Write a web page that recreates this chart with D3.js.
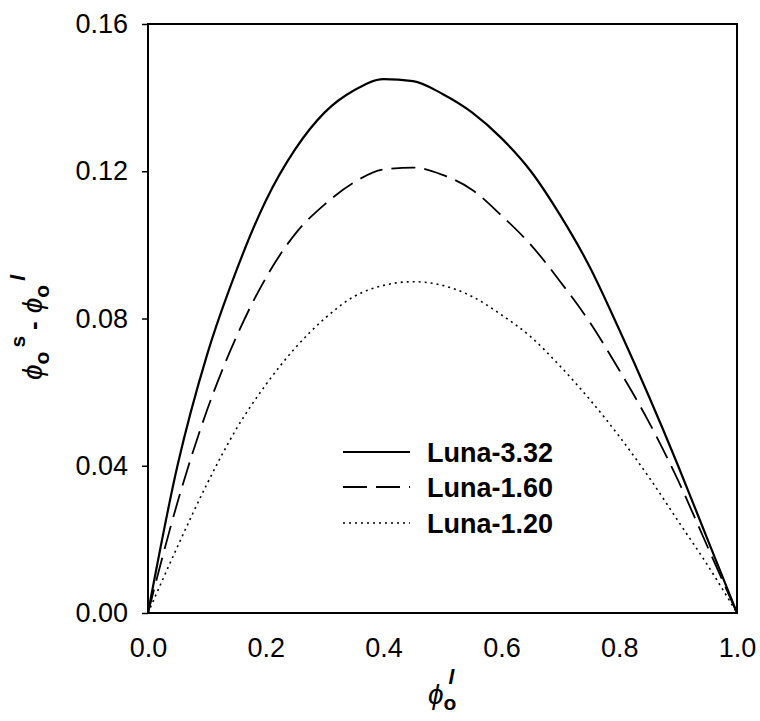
<!DOCTYPE html>
<html><head><meta charset="utf-8">
<script src="https://cdn.jsdelivr.net/npm/d3@7"></script>
<style>body{margin:0;background:#fff}svg{display:block}</style>
</head><body>
<svg id="c" width="760" height="721"></svg>
<script>
const xs = [0,0.05,0.1,0.15,0.2,0.25,0.3,0.35,0.4,0.45,0.5,0.55,0.6,0.65,0.7,0.75,0.8,0.85,0.9,0.95,1.0];
const luna332 = [0,0.040,0.070,0.093,0.112,0.126,0.136,0.142,0.145,0.1445,0.141,0.136,0.129,0.120,0.108,0.094,0.077,0.059,0.040,0.020,0];
const luna160 = [0,0.030,0.055,0.075,0.091,0.103,0.111,0.117,0.1205,0.121,0.119,0.115,0.108,0.100,0.090,0.079,0.066,0.052,0.036,0.018,0];
const luna120 = [0,0.018,0.035,0.050,0.062,0.072,0.080,0.086,0.089,0.090,0.089,0.086,0.081,0.075,0.067,0.058,0.048,0.037,0.025,0.013,0];
const seriesNames = ["Luna-3.32","Luna-1.60","Luna-1.20"];
const xTicks = [0,0.2,0.4,0.6,0.8,1.0];
const yTicks = [0,0.04,0.08,0.12,0.16];

const svg = d3.select("#c");
const L=148, R=737, T=24, B=613;
const x = d3.scaleLinear().domain([0,1]).range([L,R]);
const y = d3.scaleLinear().domain([0,0.16]).range([B,T]);
const font = "'Liberation Sans', Arial, sans-serif";

svg.append("rect").attr("x",L).attr("y",T).attr("width",R-L).attr("height",B-T)
  .attr("fill","none").attr("stroke","#000").attr("stroke-width",2);

const ya = svg.append("g").attr("transform",`translate(${L},0)`)
  .call(d3.axisLeft(y).tickValues(yTicks).tickFormat(d3.format(".2f")).tickSize(6).tickPadding(14));
ya.select(".domain").remove();
ya.selectAll("line").attr("stroke","#000").attr("stroke-width",1.5);
ya.selectAll("text").attr("font-family",font).attr("font-size",27).attr("fill","#000");

const xa = svg.append("g").attr("transform",`translate(0,${B})`)
  .call(d3.axisBottom(x).tickValues(xTicks).tickFormat(d3.format(".1f")).tickSize(0).tickPadding(25));
xa.select(".domain").remove();
xa.selectAll("text").attr("font-family",font).attr("font-size",27).attr("fill","#000");

const data = [luna332, luna160, luna120];
const styles = [
  {dash:null, w:2.2},
  {dash:"24,9", w:1.8},
  {dash:"2,4", w:1.6}
];
const line = d3.line().x((d,i)=>x(xs[i])).y(d=>y(d)).curve(d3.curveMonotoneX);
data.forEach((s,k)=>{
  svg.append("path").datum(s).attr("d",line).attr("fill","none")
    .attr("stroke","#000").attr("stroke-width",styles[k].w)
    .attr("stroke-dasharray",styles[k].dash);
});

const legY = [452,487,523];
seriesNames.forEach((n,k)=>{
  svg.append("line").attr("x1",343).attr("x2",410).attr("y1",legY[k]).attr("y2",legY[k])
    .attr("stroke","#000").attr("stroke-width",styles[k].w).attr("stroke-dasharray",styles[k].dash);
  svg.append("text").attr("x",427).attr("y",legY[k]).attr("dy","0.36em")
    .attr("font-family",font).attr("font-size",27).attr("font-weight","bold").text(n);
});

const xt = svg.append("text").attr("x",428).attr("y",704).attr("font-family",font).attr("fill","#000");
xt.append("tspan").attr("font-size",28).attr("font-style","italic").text("ϕ");
xt.append("tspan").attr("font-size",21).attr("font-weight","bold").attr("dy",6).text("o");
xt.append("tspan").attr("font-size",21).attr("font-weight","bold").attr("font-style","italic").attr("dx",-8).attr("dy",-26).text("l");

const yt = svg.append("text").attr("transform","translate(42,380) rotate(-90)")
  .attr("font-family",font).attr("fill","#000");
yt.append("tspan").attr("font-size",28).attr("font-style","italic").text("ϕ");
yt.append("tspan").attr("font-size",21).attr("font-weight","bold").attr("dy",7).text("o");
yt.append("tspan").attr("font-size",21).attr("font-weight","bold").attr("dx",4).attr("dy",-24).text("s");
yt.append("tspan").attr("font-size",26).attr("font-weight","bold").attr("dx",6).attr("dy",17).text("-");
yt.append("tspan").attr("font-size",28).attr("font-style","italic").attr("dx",8).text("ϕ");
yt.append("tspan").attr("font-size",21).attr("font-weight","bold").attr("dy",7).text("o");
yt.append("tspan").attr("font-size",21).attr("font-weight","bold").attr("font-style","italic").attr("dx",4).attr("dy",-24).text("l");
</script>
</body></html>
